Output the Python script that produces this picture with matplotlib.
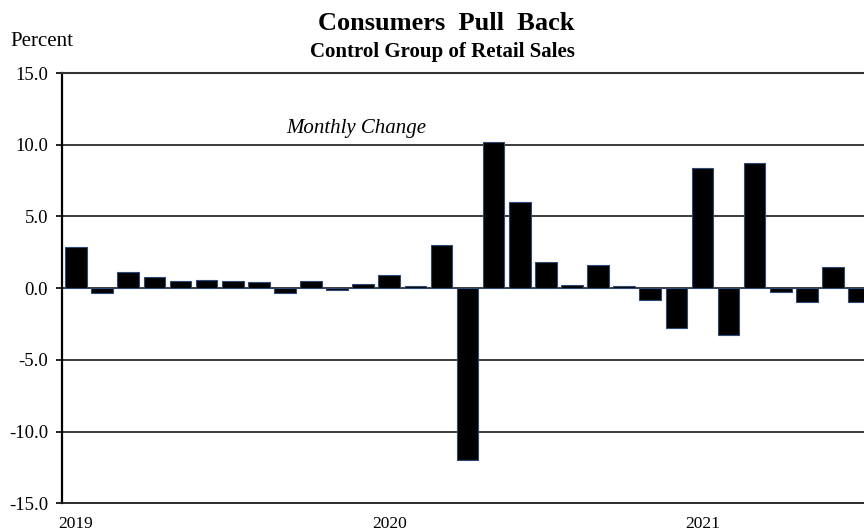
import matplotlib.pyplot as plt

# Monthly change in control group retail sales, Jan 2019 - Jul 2021
VALUES = [
    2.9, -0.35, 1.1, 0.75, 0.5, 0.6, 0.5, 0.4, -0.35, 0.5, -0.15, 0.3,   # 2019
    0.9, 0.12, 3.0, -12.0, 10.2, 6.0, 1.8, 0.25, 1.6, 0.15, -0.85, -2.8,  # 2020
    8.4, -3.25, 8.7, -0.3, -0.95, 1.5, -0.95,                             # 2021
]
YEAR_LABELS = ['2019', '2020', '2021']
YEAR_POSITIONS = [0, 12, 24]
Y_TICKS = [15.0, 10.0, 5.0, 0.0, -5.0, -10.0, -15.0]

plt.rcParams['font.family'] = ['Liberation Serif', 'DejaVu Serif']

fig = plt.figure(figsize=(8.64, 5.32), dpi=100)
ax = fig.add_axes([62 / 864, 1 - 503.3 / 532, 1 - 62 / 864, (503.3 - 73) / 532])

x = list(range(len(VALUES)))
ax.bar(x, VALUES, width=0.83, color='black', edgecolor='#2b4a7a', linewidth=0.8, zorder=3)

ax.set_xlim(-0.54, 30.19)
ax.set_ylim(-15, 15)

# horizontal rules
for y in [10, 5, 0, -5, -10]:
    ax.axhline(y, color='#1a1a1a', linewidth=1.2, zorder=2)

ax.spines['right'].set_visible(False)
ax.spines['top'].set_color('#333333')
ax.spines['top'].set_linewidth(1.5)
ax.spines['bottom'].set_color('#1a1a1a')
ax.spines['bottom'].set_linewidth(1.3)
ax.spines['left'].set_color('black')
ax.spines['left'].set_linewidth(1.6)

ax.set_yticks(Y_TICKS)
ax.set_yticklabels([f'{v:.1f}' for v in Y_TICKS], fontsize=13.5)
ax.tick_params(axis='y', length=4, width=1.2, pad=6, color='black')

ax.set_xticks(YEAR_POSITIONS)
ax.set_xticklabels(YEAR_LABELS, fontsize=12.5)
ax.tick_params(axis='x', length=0, pad=9)

fig.text(446 / 864, 1 - 24 / 532, 'Consumers  Pull  Back', ha='center', va='center',
         fontsize=19, fontweight='bold')
fig.text(442 / 864, 1 - 52 / 532, 'Control Group of Retail Sales', ha='center', va='center',
         fontsize=15, fontweight='bold')
fig.text(10 / 864, 1 - 42 / 532, 'Percent', ha='left', va='center', fontsize=15)
fig.text(356 / 864, 1 - 128 / 532, 'Monthly Change', ha='center', va='center',
         fontsize=15, fontstyle='italic')

fig.savefig('out.png', dpi=100)
